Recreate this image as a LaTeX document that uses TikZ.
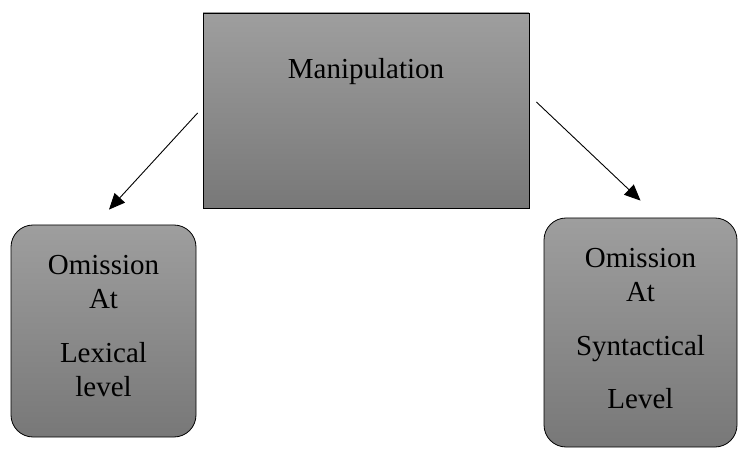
\documentclass[tikz,border=0pt]{standalone}
\usepackage{fontspec}
\setmainfont{Liberation Serif}
\usetikzlibrary{arrows.meta}
\definecolor{boxtop}{gray}{0.62}
\definecolor{boxbottom}{gray}{0.47}
\tikzset{
  greybox/.style={draw=black,line width=0.8pt,top color=boxtop,bottom color=boxbottom,inner sep=0pt},
  leafbox/.style={greybox,rounded corners=22pt},
  arr/.style={line width=0.9pt,-{Triangle[length=16pt,width=14pt]}}
}
\begin{document}
\begin{tikzpicture}[x=1pt,y=-1pt,font=\fontsize{29}{34}\selectfont]
\useasboundingbox (0,0) rectangle (739,449);
\node[greybox,minimum width=326pt,minimum height=195pt] (manip) at (366,110.5) {};
\node (maniptext) at (366,72) {Manipulation};
\node[leafbox,minimum width=185pt,minimum height=212pt] (lex) at (103.5,331) {};
\node[align=center] (lextext) at ([yshift=5pt]lex.center) {Omission\\At\\[20pt]Lexical\\level};
\node[leafbox,minimum width=193pt,minimum height=229pt] (syn) at (640.5,332.5) {};
\node[align=center] (syntext) at ([yshift=4pt]syn.center) {Omission\\At\\[20pt]Syntactical\\[19pt]Level};
\draw[arr] ([xshift=-5pt,yshift=-2.5pt]manip.west) -- ([xshift=5.5pt,yshift=15pt]lex.north);
\draw[arr] ([xshift=7pt,yshift=8.5pt]manip.east) -- ([yshift=17pt]syn.north);
\end{tikzpicture}
\end{document}
